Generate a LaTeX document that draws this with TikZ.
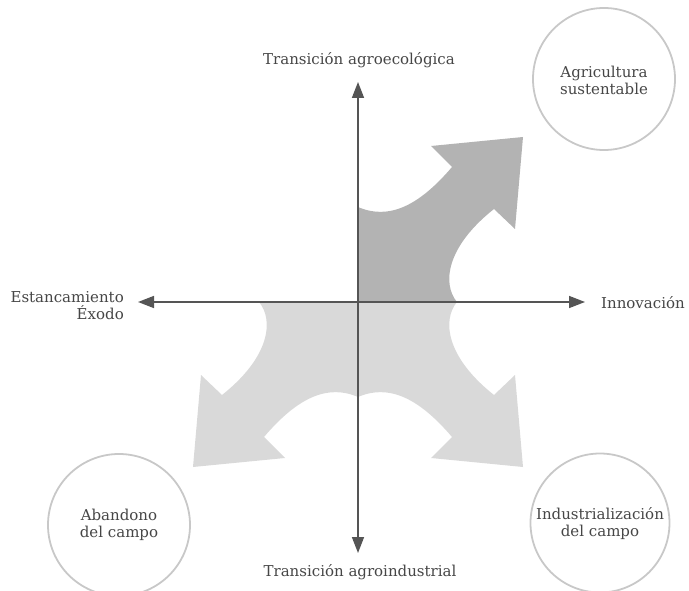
\documentclass[tikz,border=0pt]{standalone}
\usepackage{fontspec}
\setmainfont{DejaVu Serif}
\usetikzlibrary{arrows.meta}
\definecolor{axiscol}{HTML}{555555}
\definecolor{txtcol}{HTML}{464646}
\definecolor{darkfill}{HTML}{B3B3B3}
\definecolor{lightfill}{HTML}{D9D9D9}
\definecolor{ringcol}{HTML}{C8C8C8}
\tikzset{
  axisline/.style={draw=axiscol, line width=1.6pt, {Triangle[length=16pt,width=12pt]}-{Triangle[length=16pt,width=12pt]}},
  lbl/.style={text=txtcol, font=\fontsize{15}{17}\selectfont, inner sep=0pt, align=center},
  ring/.style={circle, draw=ringcol, line width=1.8pt, minimum size=#1, inner sep=0pt},
}
\newcommand{\quadshape}{(0,0) -- (99,0) .. controls (84,18) and (88,55) .. (136,93) -- (157,73) -- (165,165) -- (73,156) -- (94,135) .. controls (60,95) and (30,82) .. (0,95) -- cycle}
\begin{document}
\begin{tikzpicture}[x=1pt,y=-1pt]
\useasboundingbox (0,0) rectangle (689,591);
% quadrant arrow shapes
\begin{scope}[shift={(358,302)}]
  \fill[lightfill] \quadshape;
  \begin{scope}[xscale=-1]\fill[lightfill] \quadshape;\end{scope}
  \begin{scope}[yscale=-1]\fill[darkfill] \quadshape;\end{scope}
\end{scope}
% axes
\coordinate (O) at (358,302);
\coordinate (ytop) at (358,82);
\coordinate (ybot) at (358,553);
\coordinate (xleft) at (138,302);
\coordinate (xright) at (585,302);
\draw[axisline] (ybot) -- (ytop);
\draw[axisline] (xleft) -- (xright);
% axis labels
\node[lbl] (ttop) at (359,60) {Transición agroecológica};
\node[lbl] (tbot) at (360,572) {Transición agroindustrial};
\node[lbl, anchor=east, align=right] (tleft) at (124,306) {Estancamiento\\Éxodo};
\node[lbl, anchor=west] (tright) at (601,303) {Innovación};
% circles
\node[ring=142pt] (c1) at (604,79) {};
\node[ring=142pt] (c2) at (119,525) {};
\node[ring=139pt] (c3) at (600,523) {};
\node[lbl] (l1) at (604,80) {Agricultura\\sustentable};
\node[lbl] (l2) at (119,525) {Abandono\\del campo};
\node[lbl] (l3) at (600,524) {Industrialización\\del campo};
\end{tikzpicture}
\end{document}
